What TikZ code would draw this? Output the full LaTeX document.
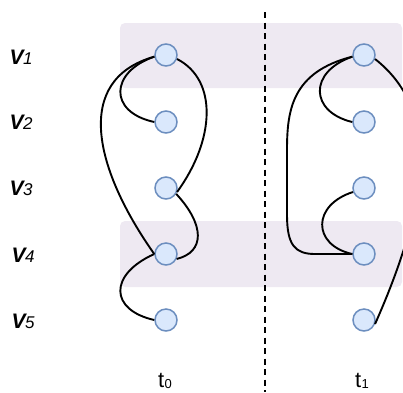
\documentclass[tikz,border=0pt]{standalone}
\usepackage{fontspec}
\setmainfont{Liberation Sans}
\begin{document}
\begin{tikzpicture}[x=1pt,y=-1pt,
  vert/.style={circle,draw=vblue,fill=vfill,line width=1.5pt,minimum size=22pt,inner sep=0pt},
  band/.style={fill=bandcol,rounded corners=5pt},
  edge/.style={line width=1.9pt,black},
  rowlab/.style={font=\fontsize{21}{21}\selectfont\bfseries\itshape},
  timelab/.style={font=\fontsize{22}{22}\selectfont, anchor=base}]
\definecolor{vblue}{RGB}{108,142,191}
\definecolor{vfill}{RGB}{218,232,252}
\definecolor{bandcol}{RGB}{238,233,242}
\useasboundingbox (0,0) rectangle (403,392);

% highlighted rows
\fill[band] (120,23) rectangle (402,88);
\fill[band] (120,221) rectangle (402,287);

% time separator
\draw[line width=1.8pt,dash pattern=on 6pt off 4.5pt] (265,12) -- (265,392);

% row labels
\foreach \i/\x/\y in {1/21/57,2/21/122,3/21/188,4/23/255,5/23/321}
  \node[rowlab] (l\i) at (\x,\y) {V\kern-0.5pt{\fontsize{17}{17}\selectfont\mdseries\i}};

% vertices at t0 and t1
\foreach \i/\y in {1/55,2/122,3/188,4/254,5/320}{
  \node[vert] (a\i) at (166,\y) {};
  \node[vert] (b\i) at (364,\y) {};
}

% time labels
\node[timelab] (t0) at (165,387) {t\kern0.3pt\raisebox{-1pt}{\fontsize{13}{13}\selectfont 0}};
\node[timelab] (t1) at (362,387) {t\kern0.3pt\raisebox{-1pt}{\fontsize{13}{13}\selectfont 1}};

% edges at t0
\draw[edge] (a1.188) .. controls (110,72) and (108,112) .. (a2.west);
\draw[edge] (a1.188) .. controls (72,80) and (95,170) .. (a4.west);
\draw[edge] (a1.-20) .. controls (218,80) and (215,140) .. (a3.-20);
\draw[edge] (a3.-30) .. controls (205,225) and (205,252) .. (a4.-25);
\draw[edge] (a4.west) .. controls (108,275) and (110,310) .. (a5.west);

% edges at t1
\draw[edge] (b1.188) .. controls (308,72) and (310,112) .. (b2.west);
\draw[edge] (b1.188) .. controls (292,72) and (287,110) .. (287,150)
  -- (287,215) .. controls (287,245) and (295,254) .. (315,254) -- (b4.west);
\draw[edge] (b3.200) .. controls (312,205) and (312,245) .. (b4.west);
\draw[edge] (b1.-20) .. controls (440,110) and (430,200) .. (b5.-20);
\end{tikzpicture}
\end{document}
